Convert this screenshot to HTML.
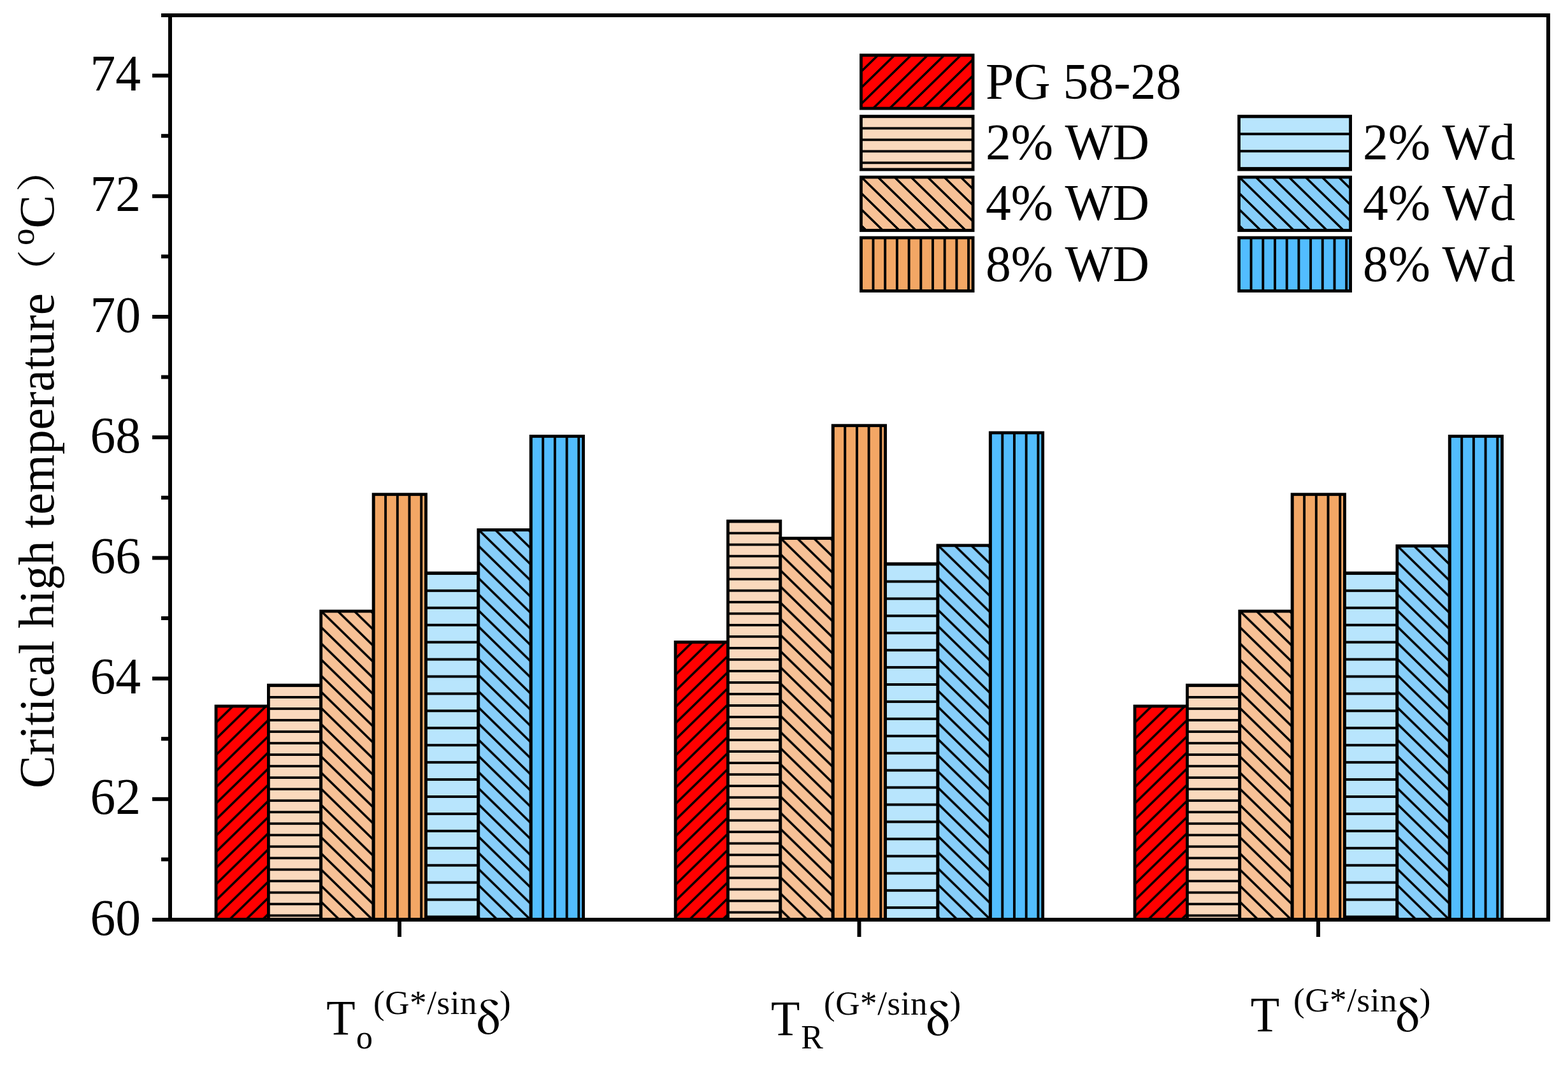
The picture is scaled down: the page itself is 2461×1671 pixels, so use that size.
<!DOCTYPE html>
<html><head><meta charset="utf-8"><title>Critical high temperature</title>
<style>html,body{margin:0;padding:0;background:#fff;width:2461px;height:1671px;overflow:hidden}svg{display:block}</style>
</head><body>
<svg width="2461" height="1671" viewBox="0 0 2461 1671">
<defs><pattern id="p1" patternUnits="userSpaceOnUse" x="339.540" y="1108.000" width="26.000" height="25.350"><g shape-rendering="crispEdges"><path d="M-13.000,12.675L13.000,-12.675M0,25.350L26.000,0M13.000,38.025L39.000,12.675" stroke="#000" stroke-width="3.8"/></g></pattern><pattern id="p2" patternUnits="userSpaceOnUse" x="421.400" y="1075.900" width="10.000" height="18.030"><g shape-rendering="crispEdges"><rect x="0" y="-1.500" width="10" height="3.0"/><rect x="0" y="16.530" width="10" height="3.0"/></g></pattern><pattern id="p3" patternUnits="userSpaceOnUse" x="504.260" y="959.000" width="26.000" height="25.350"><g shape-rendering="crispEdges"><path d="M-13.000,-12.675L13.000,12.675M0,0L26.000,25.350M13.000,-12.675L39.000,12.675M-13.000,12.675L13.000,38.025" stroke="#000" stroke-width="3.8"/></g></pattern><pattern id="p4" patternUnits="userSpaceOnUse" x="586.420" y="775.700" width="18.700" height="10.000"><g shape-rendering="crispEdges"><rect x="-1.500" y="0" width="3.0" height="10"/><rect x="17.200" y="0" width="3.0" height="10"/></g></pattern><pattern id="p5" patternUnits="userSpaceOnUse" x="668.480" y="899.900" width="10.000" height="26.930"><g shape-rendering="crispEdges"><rect x="0" y="-1.500" width="10" height="3.0"/><rect x="0" y="25.430" width="10" height="3.0"/></g></pattern><pattern id="p6" patternUnits="userSpaceOnUse" x="751.340" y="831.400" width="26.000" height="25.350"><g shape-rendering="crispEdges"><path d="M-13.000,-12.675L13.000,12.675M0,0L26.000,25.350M13.000,-12.675L39.000,12.675M-13.000,12.675L13.000,38.025" stroke="#000" stroke-width="3.8"/></g></pattern><pattern id="p7" patternUnits="userSpaceOnUse" x="833.500" y="684.500" width="18.700" height="10.000"><g shape-rendering="crispEdges"><rect x="-1.500" y="0" width="3.0" height="10"/><rect x="17.200" y="0" width="3.0" height="10"/></g></pattern><pattern id="p8" patternUnits="userSpaceOnUse" x="1060.640" y="1007.500" width="26.000" height="25.350"><g shape-rendering="crispEdges"><path d="M-13.000,12.675L13.000,-12.675M0,25.350L26.000,0M13.000,38.025L39.000,12.675" stroke="#000" stroke-width="3.8"/></g></pattern><pattern id="p9" patternUnits="userSpaceOnUse" x="1142.500" y="818.500" width="10.000" height="18.030"><g shape-rendering="crispEdges"><rect x="0" y="-1.500" width="10" height="3.0"/><rect x="0" y="16.530" width="10" height="3.0"/></g></pattern><pattern id="p10" patternUnits="userSpaceOnUse" x="1225.360" y="844.600" width="26.000" height="25.350"><g shape-rendering="crispEdges"><path d="M-13.000,-12.675L13.000,12.675M0,0L26.000,25.350M13.000,-12.675L39.000,12.675M-13.000,12.675L13.000,38.025" stroke="#000" stroke-width="3.8"/></g></pattern><pattern id="p11" patternUnits="userSpaceOnUse" x="1307.520" y="667.700" width="18.700" height="10.000"><g shape-rendering="crispEdges"><rect x="-1.500" y="0" width="3.0" height="10"/><rect x="17.200" y="0" width="3.0" height="10"/></g></pattern><pattern id="p12" patternUnits="userSpaceOnUse" x="1389.580" y="885.500" width="10.000" height="26.930"><g shape-rendering="crispEdges"><rect x="0" y="-1.500" width="10" height="3.0"/><rect x="0" y="25.430" width="10" height="3.0"/></g></pattern><pattern id="p13" patternUnits="userSpaceOnUse" x="1472.440" y="855.800" width="26.000" height="25.350"><g shape-rendering="crispEdges"><path d="M-13.000,-12.675L13.000,12.675M0,0L26.000,25.350M13.000,-12.675L39.000,12.675M-13.000,12.675L13.000,38.025" stroke="#000" stroke-width="3.8"/></g></pattern><pattern id="p14" patternUnits="userSpaceOnUse" x="1554.600" y="679.000" width="18.700" height="10.000"><g shape-rendering="crispEdges"><rect x="-1.500" y="0" width="3.0" height="10"/><rect x="17.200" y="0" width="3.0" height="10"/></g></pattern><pattern id="p15" patternUnits="userSpaceOnUse" x="1781.540" y="1108.000" width="26.000" height="25.350"><g shape-rendering="crispEdges"><path d="M-13.000,12.675L13.000,-12.675M0,25.350L26.000,0M13.000,38.025L39.000,12.675" stroke="#000" stroke-width="3.8"/></g></pattern><pattern id="p16" patternUnits="userSpaceOnUse" x="1863.400" y="1075.900" width="10.000" height="18.030"><g shape-rendering="crispEdges"><rect x="0" y="-1.500" width="10" height="3.0"/><rect x="0" y="16.530" width="10" height="3.0"/></g></pattern><pattern id="p17" patternUnits="userSpaceOnUse" x="1946.260" y="959.000" width="26.000" height="25.350"><g shape-rendering="crispEdges"><path d="M-13.000,-12.675L13.000,12.675M0,0L26.000,25.350M13.000,-12.675L39.000,12.675M-13.000,12.675L13.000,38.025" stroke="#000" stroke-width="3.8"/></g></pattern><pattern id="p18" patternUnits="userSpaceOnUse" x="2028.420" y="775.700" width="18.700" height="10.000"><g shape-rendering="crispEdges"><rect x="-1.500" y="0" width="3.0" height="10"/><rect x="17.200" y="0" width="3.0" height="10"/></g></pattern><pattern id="p19" patternUnits="userSpaceOnUse" x="2110.480" y="899.900" width="10.000" height="26.930"><g shape-rendering="crispEdges"><rect x="0" y="-1.500" width="10" height="3.0"/><rect x="0" y="25.430" width="10" height="3.0"/></g></pattern><pattern id="p20" patternUnits="userSpaceOnUse" x="2193.340" y="856.600" width="26.000" height="25.350"><g shape-rendering="crispEdges"><path d="M-13.000,-12.675L13.000,12.675M0,0L26.000,25.350M13.000,-12.675L39.000,12.675M-13.000,12.675L13.000,38.025" stroke="#000" stroke-width="3.8"/></g></pattern><pattern id="p21" patternUnits="userSpaceOnUse" x="2275.500" y="684.500" width="18.700" height="10.000"><g shape-rendering="crispEdges"><rect x="-1.500" y="0" width="3.0" height="10"/><rect x="17.200" y="0" width="3.0" height="10"/></g></pattern><pattern id="p22" patternUnits="userSpaceOnUse" x="1352.000" y="86.600" width="26.000" height="25.350"><g shape-rendering="crispEdges"><path d="M-13.000,12.675L13.000,-12.675M0,25.350L26.000,0M13.000,38.025L39.000,12.675" stroke="#000" stroke-width="3.8"/></g></pattern><pattern id="p23" patternUnits="userSpaceOnUse" x="1351.500" y="183.300" width="10.000" height="18.030"><g shape-rendering="crispEdges"><rect x="0" y="-1.500" width="10" height="3.0"/><rect x="0" y="16.530" width="10" height="3.0"/></g></pattern><pattern id="p24" patternUnits="userSpaceOnUse" x="1352.000" y="278.000" width="26.000" height="25.350"><g shape-rendering="crispEdges"><path d="M-13.000,-12.675L13.000,12.675M0,0L26.000,25.350M13.000,-12.675L39.000,12.675M-13.000,12.675L13.000,38.025" stroke="#000" stroke-width="3.8"/></g></pattern><pattern id="p25" patternUnits="userSpaceOnUse" x="1351.800" y="373.000" width="18.700" height="10.000"><g shape-rendering="crispEdges"><rect x="-1.500" y="0" width="3.0" height="10"/><rect x="17.200" y="0" width="3.0" height="10"/></g></pattern><pattern id="p26" patternUnits="userSpaceOnUse" x="1944.600" y="183.300" width="10.000" height="26.930"><g shape-rendering="crispEdges"><rect x="0" y="-1.500" width="10" height="3.0"/><rect x="0" y="25.430" width="10" height="3.0"/></g></pattern><pattern id="p27" patternUnits="userSpaceOnUse" x="1945.100" y="278.000" width="26.000" height="25.350"><g shape-rendering="crispEdges"><path d="M-13.000,-12.675L13.000,12.675M0,0L26.000,25.350M13.000,-12.675L39.000,12.675M-13.000,12.675L13.000,38.025" stroke="#000" stroke-width="3.8"/></g></pattern><pattern id="p28" patternUnits="userSpaceOnUse" x="1944.900" y="373.000" width="18.700" height="10.000"><g shape-rendering="crispEdges"><rect x="-1.500" y="0" width="3.0" height="10"/><rect x="17.200" y="0" width="3.0" height="10"/></g></pattern></defs>
<rect width="2461" height="1671" fill="#fff"/>
<g><rect x="339.04" y="1108.00" width="82.36" height="335.00" fill="#FF0000"/><rect x="339.04" y="1108.00" width="82.36" height="335.00" fill="url(#p1)"/><rect x="339.04" y="1108.00" width="82.36" height="335.00" fill="none" stroke="#000" stroke-width="4.8"/><rect x="421.40" y="1075.10" width="82.36" height="367.90" fill="#FAD9BD"/><rect x="421.40" y="1075.10" width="82.36" height="367.90" fill="url(#p2)"/><rect x="421.40" y="1075.10" width="82.36" height="367.90" fill="none" stroke="#000" stroke-width="4.8"/><rect x="503.76" y="959.00" width="82.36" height="484.00" fill="#F7C196"/><rect x="503.76" y="959.00" width="82.36" height="484.00" fill="url(#p3)"/><rect x="503.76" y="959.00" width="82.36" height="484.00" fill="none" stroke="#000" stroke-width="4.8"/><rect x="586.12" y="775.70" width="82.36" height="667.30" fill="#F3A765"/><rect x="586.12" y="775.70" width="82.36" height="667.30" fill="url(#p4)"/><rect x="586.12" y="775.70" width="82.36" height="667.30" fill="none" stroke="#000" stroke-width="4.8"/><rect x="668.48" y="899.10" width="82.36" height="543.90" fill="#B8E5FD"/><rect x="668.48" y="899.10" width="82.36" height="543.90" fill="url(#p5)"/><rect x="668.48" y="899.10" width="82.36" height="543.90" fill="none" stroke="#000" stroke-width="4.8"/><rect x="750.84" y="831.40" width="82.36" height="611.60" fill="#87CEFA"/><rect x="750.84" y="831.40" width="82.36" height="611.60" fill="url(#p6)"/><rect x="750.84" y="831.40" width="82.36" height="611.60" fill="none" stroke="#000" stroke-width="4.8"/><rect x="833.20" y="684.50" width="82.36" height="758.50" fill="#52BDFF"/><rect x="833.20" y="684.50" width="82.36" height="758.50" fill="url(#p7)"/><rect x="833.20" y="684.50" width="82.36" height="758.50" fill="none" stroke="#000" stroke-width="4.8"/><rect x="1060.14" y="1007.50" width="82.36" height="435.50" fill="#FF0000"/><rect x="1060.14" y="1007.50" width="82.36" height="435.50" fill="url(#p8)"/><rect x="1060.14" y="1007.50" width="82.36" height="435.50" fill="none" stroke="#000" stroke-width="4.8"/><rect x="1142.50" y="817.70" width="82.36" height="625.30" fill="#FAD9BD"/><rect x="1142.50" y="817.70" width="82.36" height="625.30" fill="url(#p9)"/><rect x="1142.50" y="817.70" width="82.36" height="625.30" fill="none" stroke="#000" stroke-width="4.8"/><rect x="1224.86" y="844.60" width="82.36" height="598.40" fill="#F7C196"/><rect x="1224.86" y="844.60" width="82.36" height="598.40" fill="url(#p10)"/><rect x="1224.86" y="844.60" width="82.36" height="598.40" fill="none" stroke="#000" stroke-width="4.8"/><rect x="1307.22" y="667.70" width="82.36" height="775.30" fill="#F3A765"/><rect x="1307.22" y="667.70" width="82.36" height="775.30" fill="url(#p11)"/><rect x="1307.22" y="667.70" width="82.36" height="775.30" fill="none" stroke="#000" stroke-width="4.8"/><rect x="1389.58" y="884.70" width="82.36" height="558.30" fill="#B8E5FD"/><rect x="1389.58" y="884.70" width="82.36" height="558.30" fill="url(#p12)"/><rect x="1389.58" y="884.70" width="82.36" height="558.30" fill="none" stroke="#000" stroke-width="4.8"/><rect x="1471.94" y="855.80" width="82.36" height="587.20" fill="#87CEFA"/><rect x="1471.94" y="855.80" width="82.36" height="587.20" fill="url(#p13)"/><rect x="1471.94" y="855.80" width="82.36" height="587.20" fill="none" stroke="#000" stroke-width="4.8"/><rect x="1554.30" y="679.00" width="82.36" height="764.00" fill="#52BDFF"/><rect x="1554.30" y="679.00" width="82.36" height="764.00" fill="url(#p14)"/><rect x="1554.30" y="679.00" width="82.36" height="764.00" fill="none" stroke="#000" stroke-width="4.8"/><rect x="1781.04" y="1108.00" width="82.36" height="335.00" fill="#FF0000"/><rect x="1781.04" y="1108.00" width="82.36" height="335.00" fill="url(#p15)"/><rect x="1781.04" y="1108.00" width="82.36" height="335.00" fill="none" stroke="#000" stroke-width="4.8"/><rect x="1863.40" y="1075.10" width="82.36" height="367.90" fill="#FAD9BD"/><rect x="1863.40" y="1075.10" width="82.36" height="367.90" fill="url(#p16)"/><rect x="1863.40" y="1075.10" width="82.36" height="367.90" fill="none" stroke="#000" stroke-width="4.8"/><rect x="1945.76" y="959.00" width="82.36" height="484.00" fill="#F7C196"/><rect x="1945.76" y="959.00" width="82.36" height="484.00" fill="url(#p17)"/><rect x="1945.76" y="959.00" width="82.36" height="484.00" fill="none" stroke="#000" stroke-width="4.8"/><rect x="2028.12" y="775.70" width="82.36" height="667.30" fill="#F3A765"/><rect x="2028.12" y="775.70" width="82.36" height="667.30" fill="url(#p18)"/><rect x="2028.12" y="775.70" width="82.36" height="667.30" fill="none" stroke="#000" stroke-width="4.8"/><rect x="2110.48" y="899.10" width="82.36" height="543.90" fill="#B8E5FD"/><rect x="2110.48" y="899.10" width="82.36" height="543.90" fill="url(#p19)"/><rect x="2110.48" y="899.10" width="82.36" height="543.90" fill="none" stroke="#000" stroke-width="4.8"/><rect x="2192.84" y="856.60" width="82.36" height="586.40" fill="#87CEFA"/><rect x="2192.84" y="856.60" width="82.36" height="586.40" fill="url(#p20)"/><rect x="2192.84" y="856.60" width="82.36" height="586.40" fill="none" stroke="#000" stroke-width="4.8"/><rect x="2275.20" y="684.50" width="82.36" height="758.50" fill="#52BDFF"/><rect x="2275.20" y="684.50" width="82.36" height="758.50" fill="url(#p21)"/><rect x="2275.20" y="684.50" width="82.36" height="758.50" fill="none" stroke="#000" stroke-width="4.8"/><rect x="1351.50" y="86.60" width="175.60" height="83.50" fill="#FF0000"/><rect x="1351.50" y="86.60" width="175.60" height="83.50" fill="url(#p22)"/><rect x="1351.50" y="86.60" width="175.60" height="83.50" fill="none" stroke="#000" stroke-width="4.8"/><rect x="1351.50" y="182.50" width="175.60" height="83.50" fill="#FAD9BD"/><rect x="1351.50" y="182.50" width="175.60" height="83.50" fill="url(#p23)"/><rect x="1351.50" y="182.50" width="175.60" height="83.50" fill="none" stroke="#000" stroke-width="4.8"/><rect x="1351.50" y="278.00" width="175.60" height="83.50" fill="#F7C196"/><rect x="1351.50" y="278.00" width="175.60" height="83.50" fill="url(#p24)"/><rect x="1351.50" y="278.00" width="175.60" height="83.50" fill="none" stroke="#000" stroke-width="4.8"/><rect x="1351.50" y="373.00" width="175.60" height="83.50" fill="#F3A765"/><rect x="1351.50" y="373.00" width="175.60" height="83.50" fill="url(#p25)"/><rect x="1351.50" y="373.00" width="175.60" height="83.50" fill="none" stroke="#000" stroke-width="4.8"/><rect x="1944.60" y="182.50" width="175.00" height="83.50" fill="#B8E5FD"/><rect x="1944.60" y="182.50" width="175.00" height="83.50" fill="url(#p26)"/><rect x="1944.60" y="182.50" width="175.00" height="83.50" fill="none" stroke="#000" stroke-width="4.8"/><rect x="1944.60" y="278.00" width="175.00" height="83.50" fill="#87CEFA"/><rect x="1944.60" y="278.00" width="175.00" height="83.50" fill="url(#p27)"/><rect x="1944.60" y="278.00" width="175.00" height="83.50" fill="none" stroke="#000" stroke-width="4.8"/><rect x="1944.60" y="373.00" width="175.00" height="83.50" fill="#52BDFF"/><rect x="1944.60" y="373.00" width="175.00" height="83.50" fill="url(#p28)"/><rect x="1944.60" y="373.00" width="175.00" height="83.50" fill="none" stroke="#000" stroke-width="4.8"/></g>
<g fill="#000"><rect x="264.0" y="21.0" width="2169.0" height="6.0"/><rect x="264.0" y="1440.0" width="2169.0" height="6.0"/><rect x="264.0" y="21.0" width="6.0" height="1425.0"/><rect x="2427.0" y="21.0" width="6.0" height="1425.0"/><rect x="239" y="1440.00" width="28.0" height="6.0"/><rect x="253" y="1345.40" width="14.0" height="6.0"/><rect x="239" y="1250.80" width="28.0" height="6.0"/><rect x="253" y="1156.20" width="14.0" height="6.0"/><rect x="239" y="1061.60" width="28.0" height="6.0"/><rect x="253" y="967.00" width="14.0" height="6.0"/><rect x="239" y="872.40" width="28.0" height="6.0"/><rect x="253" y="777.80" width="14.0" height="6.0"/><rect x="239" y="683.20" width="28.0" height="6.0"/><rect x="253" y="588.60" width="14.0" height="6.0"/><rect x="239" y="494.00" width="28.0" height="6.0"/><rect x="253" y="399.40" width="14.0" height="6.0"/><rect x="239" y="304.80" width="28.0" height="6.0"/><rect x="253" y="210.20" width="14.0" height="6.0"/><rect x="239" y="115.60" width="28.0" height="6.0"/><rect x="253" y="21.00" width="14.0" height="6.0"/><rect x="624.00" y="1443.0" width="6.0" height="27.0"/><rect x="1345.50" y="1443.0" width="6.0" height="27.0"/><rect x="2066.00" y="1443.0" width="6.0" height="27.0"/></g>
<g font-family="'Liberation Serif', 'Times New Roman', serif" fill="#000"><text x="1547.0" y="154.9" font-size="79.5">PG 58-28</text><text x="1547.0" y="250.4" font-size="79.5">2% WD</text><text x="1547.0" y="345.2" font-size="79.5">4% WD</text><text x="1547.0" y="441.0" font-size="79.5">8% WD</text><text x="2139.0" y="250.4" font-size="79.5">2% Wd</text><text x="2139.0" y="345.2" font-size="79.5">4% Wd</text><text x="2139.0" y="441.0" font-size="79.5">8% Wd</text><text x="221" y="1466.5" font-size="79.5" text-anchor="end">60</text><text x="221" y="1277.3" font-size="79.5" text-anchor="end">62</text><text x="221" y="1088.1" font-size="79.5" text-anchor="end">64</text><text x="221" y="898.9" font-size="79.5" text-anchor="end">66</text><text x="221" y="709.7" font-size="79.5" text-anchor="end">68</text><text x="221" y="520.5" font-size="79.5" text-anchor="end">70</text><text x="221" y="331.3" font-size="79.5" text-anchor="end">72</text><text x="221" y="142.1" font-size="79.5" text-anchor="end">74</text><text transform="translate(84,1236.9) rotate(-90)" font-size="77.3">Critical high temperature</text><text transform="translate(81,464.2) rotate(-90) scale(1.18,1)" font-size="62" font-family="Liberation Serif, Noto Serif CJK SC, serif">（</text><text transform="translate(53.1,385) rotate(-90)" font-size="53">o</text><text transform="translate(84,358.5) rotate(-90)" font-size="79">C</text><text transform="translate(80,301.7) rotate(-90) scale(1.18,1)" font-size="62" font-family="Liberation Serif, Noto Serif CJK SC, serif">）</text><text transform="translate(512.2,1623.0) scale(0.948,1)" font-size="78.5">T</text><text x="559.0" y="1645.0" font-size="52.0">o</text><text x="586.0" y="1591.3" font-size="53.0" letter-spacing="0.6">(G*/sin</text><text x="747.8" y="1622.3" font-size="66" font-family="Noto Serif CJK SC, Liberation Serif, serif" font-weight="600">δ</text><text x="784.0" y="1591.3" font-size="53.0">)</text><text transform="translate(1210.1,1623.7) scale(0.948,1)" font-size="78.5">T</text><text x="1257.3" y="1644.9" font-size="52.0">R</text><text x="1293.0" y="1591.6" font-size="53.0" letter-spacing="0.6">(G*/sin</text><text x="1453.6" y="1623.7" font-size="66" font-family="Noto Serif CJK SC, Liberation Serif, serif" font-weight="600">δ</text><text x="1490.6" y="1591.6" font-size="53.0">)</text><text transform="translate(1962.8,1617.8) scale(0.948,1)" font-size="78.5">T</text><text x="2030.0" y="1586.8" font-size="53.0" letter-spacing="0.6">(G*/sin</text><text x="2190.6" y="1618.2" font-size="66" font-family="Noto Serif CJK SC, Liberation Serif, serif" font-weight="600">δ</text><text x="2227.8" y="1586.8" font-size="53.0">)</text></g>
</svg>
</body></html>
